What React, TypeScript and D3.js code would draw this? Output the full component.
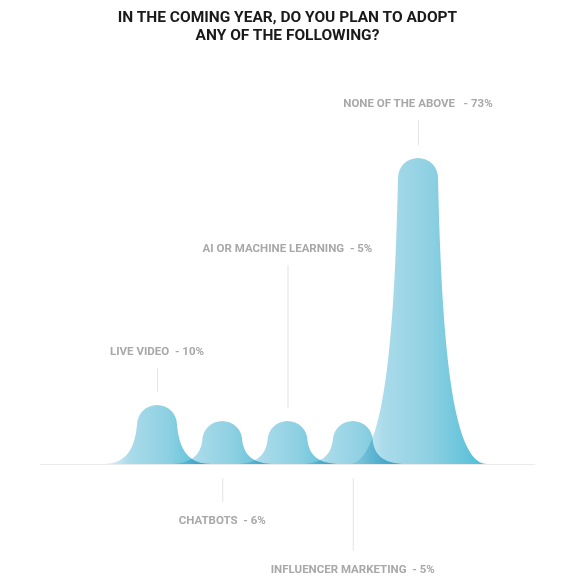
import React from "react";
import * as d3 from "d3";

const categories = ["LIVE VIDEO", "CHATBOTS", "AI OR MACHINE LEARNING", "INFLUENCER MARKETING", "NONE OF THE ABOVE"];
const values = [10, 6, 5, 5, 73];
const separators = ["  - ", "  - ", "  - ", "  - ", "   - "];
const labelSides = ["top", "bottom", "top", "bottom", "top"];
const leaderLengths = [24, 24, 143, 73, 25];
const titleLines = ["IN THE COMING YEAR, DO YOU PLAN TO ADOPT", "ANY OF THE FOLLOWING?"];

const W = 575;
const H = 579;
const BASE = 464;
const R = 20;

const x = d3.scalePoint<string>().domain(categories).range([157, 418]);
const h = d3.scaleLinear().domain([5, 6, 10, 73]).range([43, 43, 59, 306]);

function bumpPath(cx: number, height: number): string {
  const top = BASE - height;
  const flare = 27 + height * 0.06;
  const a = 2 + height * 0.006;
  const b = flare * 0.33;
  const sy = top + R;
  const c1y = sy + (BASE - sy) * 0.6;
  const p = d3.path();
  p.moveTo(cx - R - flare - 4, BASE);
  p.bezierCurveTo(cx - R - b, BASE, cx - R - a, c1y, cx - R, sy);
  p.arc(cx, sy, R, Math.PI, 2 * Math.PI);
  p.bezierCurveTo(cx + R + a, c1y, cx + R + b, BASE, cx + R + flare + 4, BASE);
  p.closePath();
  return p.toString();
}

export default function App() {
  return (
    <svg width={W} height={H} style={{ position: "absolute", left: 0, top: 0, background: "#fff" }}>
      <defs>
        <linearGradient id="bumpGrad" x1="0" y1="0" x2="1" y2="0">
          <stop offset="0" stopColor="#e6f4f9" />
          <stop offset="0.25" stopColor="#aadbea" />
          <stop offset="0.6" stopColor="#8dd0e2" />
          <stop offset="1" stopColor="#4cbcd7" />
        </linearGradient>
      </defs>
      {titleLines.map((t, i) => (
        <text key={i} x={287.5} y={22 + i * 18} textAnchor="middle"
          fontFamily="Roboto" fontWeight={700} fontSize={15.5} fill="#1a1a1a">{t}</text>
      ))}
      <line x1={40} x2={535} y1={BASE + 0.5} y2={BASE + 0.5} stroke="#ebebeb" strokeWidth={1} />
      {categories.map((c, i) => (
        <path key={c} d={bumpPath(x(c)!, h(values[i]))} fill="url(#bumpGrad)"
          style={{ mixBlendMode: "multiply" }} />
      ))}
      {categories.map((c, i) => {
        const cx = x(c)!;
        const top = BASE - h(values[i]);
        const L = leaderLengths[i];
        const label = `${c}${separators[i]}${values[i]}%`;
        if (labelSides[i] === "top") {
          const y1 = top - 13;
          const y2 = y1 - L;
          return (
            <g key={c}>
              <line x1={cx + 0.5} x2={cx + 0.5} y1={y1} y2={y2} stroke="#e3e3e3" />
              <text x={cx} y={y2 - 13} textAnchor="middle" fontFamily="Roboto" fontWeight={700}
                fontSize={11.5} fill="#a8a8a8" style={{ whiteSpace: "pre" }}>{label}</text>
            </g>
          );
        }
        const y1 = BASE + 14;
        const y2 = y1 + L;
        return (
          <g key={c}>
            <line x1={cx + 0.5} x2={cx + 0.5} y1={y1} y2={y2} stroke="#e3e3e3" />
            <text x={cx} y={y2 + 22} textAnchor="middle" fontFamily="Roboto" fontWeight={700}
              fontSize={11.5} fill="#a8a8a8" style={{ whiteSpace: "pre" }}>{label}</text>
          </g>
        );
      })}
    </svg>
  );
}
